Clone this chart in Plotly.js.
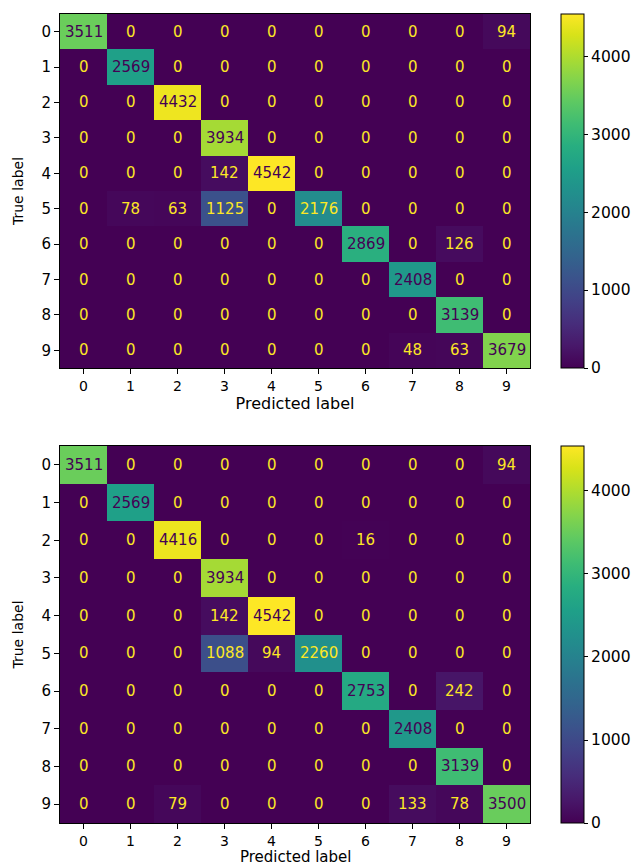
<!DOCTYPE html>
<html>
<head>
<meta charset="utf-8">
<script src="https://cdn.plot.ly/plotly-3.0.1.min.js"></script>
<style>html,body{margin:0;padding:0;background:#fff;}#chart{width:641px;height:867px;}</style>
</head>
<body>
<div id="chart"></div>
<script>
const labels = [0,1,2,3,4,5,6,7,8,9];
const tickText = ["0","1","2","3","4","5","6","7","8","9"];

const matrixTop = [
  [3511,0,0,0,0,0,0,0,0,94],
  [0,2569,0,0,0,0,0,0,0,0],
  [0,0,4432,0,0,0,0,0,0,0],
  [0,0,0,3934,0,0,0,0,0,0],
  [0,0,0,142,4542,0,0,0,0,0],
  [0,78,63,1125,0,2176,0,0,0,0],
  [0,0,0,0,0,0,2869,0,126,0],
  [0,0,0,0,0,0,0,2408,0,0],
  [0,0,0,0,0,0,0,0,3139,0],
  [0,0,0,0,0,0,0,48,63,3679]
];
const matrixBottom = [
  [3511,0,0,0,0,0,0,0,0,94],
  [0,2569,0,0,0,0,0,0,0,0],
  [0,0,4416,0,0,0,16,0,0,0],
  [0,0,0,3934,0,0,0,0,0,0],
  [0,0,0,142,4542,0,0,0,0,0],
  [0,0,0,1088,94,2260,0,0,0,0],
  [0,0,0,0,0,0,2753,0,242,0],
  [0,0,0,0,0,0,0,2408,0,0],
  [0,0,0,0,0,0,0,0,3139,0],
  [0,0,79,0,0,0,0,133,78,3500]
];
const xTitle = "Predicted label";
const yTitle = "True label";

const W = 641, H = 867;
const font = "DejaVu Sans, sans-serif";
const dark = "#440154", light = "#fde725";

function zmaxOf(m){ return Math.max(...m.flat()); }
function zminOf(m){ return Math.min(...m.flat()); }

function heat(m, xa, ya, cb){
  return {
    type: "heatmap", z: m, x: labels, y: labels,
    xaxis: xa, yaxis: ya,
    colorscale: "Viridis", zmin: zminOf(m), zmax: zmaxOf(m),
    hoverinfo: "x+y+z",
    colorbar: Object.assign({
      thickness: 23, thicknessmode: "pixels", lenmode: "fraction",
      xanchor: "left", yanchor: "middle", x: 561/W,
      outlinewidth: 1, outlinecolor: "#000", ypad: 0, xpad: 0,
      ticks: "outside", ticklen: 4, tickcolor: "#000",
      tickvals: [0,1000,2000,3000,4000],
      tickfont: {family: font, size: 15.5, color: "#000"}
    }, cb)
  };
}

function anns(m, xa, ya){
  const thr = (zmaxOf(m) + zminOf(m)) / 2;
  const out = [];
  m.forEach((row, i) => row.forEach((v, j) => {
    out.push({x: labels[j], y: labels[i], xref: xa, yref: ya, text: String(v),
      showarrow: false, font: {family: font, size: 15, color: v < thr ? light : dark}});
  }));
  return out;
}

const axX = (domain, anchor, title) => ({
  domain: domain, anchor: anchor, range: [-0.5, 9.5],
  tickvals: labels, ticktext: tickText, ticks: "outside", ticklen: 5, tickcolor: "#000",
  tickfont: {family: font, size: 14, color: "#000"},
  showline: true, linecolor: "#000", linewidth: 1, mirror: true,
  showgrid: false, zeroline: false, automargin: false,
  title: {text: title, font: {family: font, size: 16, color: "#000"}, standoff: 5}
});
const axY = (domain, anchor) => ({
  domain: domain, anchor: anchor, range: [9.5, -0.5],
  tickvals: labels, ticktext: tickText, ticks: "outside", ticklen: 5, tickcolor: "#000",
  tickfont: {family: font, size: 15, color: "#000"},
  showline: true, linecolor: "#000", linewidth: 1, mirror: true,
  showgrid: false, zeroline: false, automargin: false,
  title: {text: yTitle, font: {family: font, size: 14, color: "#000"}, standoff: 14}
});

const xDom = [60/W, 530/W];
const yTop = [1 - 368/H, 1 - 14/H];
const yBot = [1 - 823/H, 1 - 446/H];

const data = [
  heat(matrixTop, "x", "y", {len: (yTop[1]-yTop[0]), y: (yTop[0]+yTop[1])/2}),
  heat(matrixBottom, "x2", "y2", {len: (yBot[1]-yBot[0]), y: (yBot[0]+yBot[1])/2})
];

const bottomTitle = {
  text: xTitle, xref: "paper", yref: "paper",
  x: (xDom[0] + xDom[1]) / 2, y: 0, xanchor: "center", yanchor: "bottom",
  showarrow: false, borderpad: 0, font: {family: font, size: 15, color: "#000"}
};

const layout = {
  width: W, height: H,
  margin: {l: 0, r: 0, t: 0, b: 0},
  paper_bgcolor: "#fff", plot_bgcolor: "#fff",
  font: {family: font, color: "#000"},
  xaxis: axX(xDom, "y", xTitle),
  yaxis: axY(yTop, "x"),
  xaxis2: axX(xDom, "y2", ""),
  yaxis2: axY(yBot, "x2"),
  annotations: anns(matrixTop, "x", "y").concat(anns(matrixBottom, "x2", "y2"), [bottomTitle]),
  showlegend: false
};

Plotly.newPlot("chart", data, layout, {displayModeBar: false, staticPlot: true});
</script>
</body>
</html>
